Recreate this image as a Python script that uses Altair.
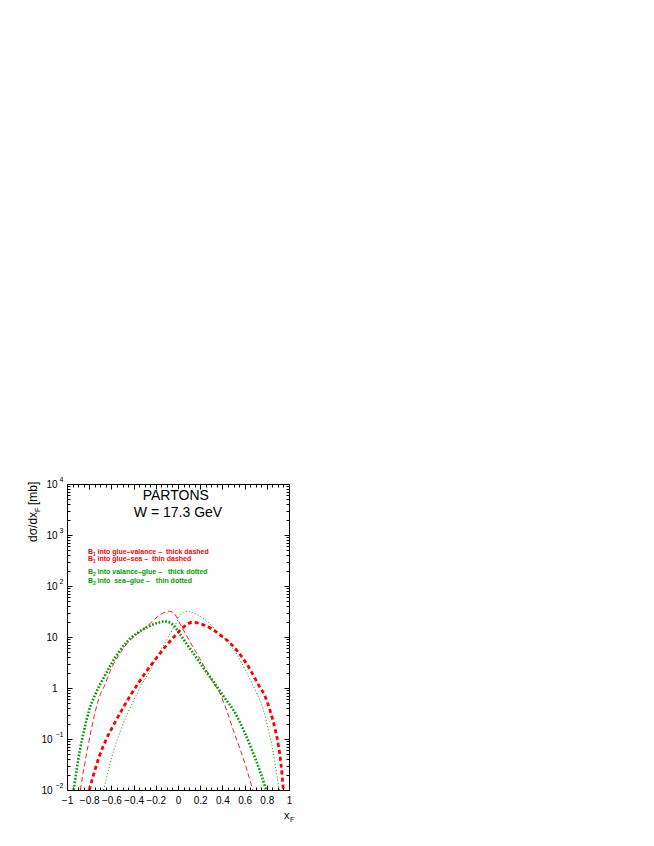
import altair as alt
import pandas as pd

# ---- data ----
b1_valence_x = [-0.80, -0.77, -0.71, -0.65, -0.576, -0.50, -0.43, -0.35, -0.28, -0.19, -0.11, -0.02, 0.02, 0.07,
                0.13, 0.20, 0.29, 0.38, 0.47, 0.56, 0.65, 0.725, 0.785, 0.83, 0.874, 0.904, 0.928, 0.949]
b1_valence_y = [0.01, 0.017, 0.045, 0.095, 0.195, 0.39, 0.71, 1.32, 2.19, 3.98, 6.6, 11, 13.5, 17,
                19.5, 18.2, 15, 11, 7.6, 4.5, 2.3, 1.15, 0.68, 0.355, 0.16, 0.076, 0.032, 0.01]

b1_sea_x = [-0.88, -0.845, -0.80, -0.755, -0.70, -0.665, -0.605, -0.53, -0.456, -0.336, -0.247, -0.157, -0.08,
            -0.038, 0.022, 0.082, 0.142, 0.202, 0.262, 0.32, 0.381, 0.44, 0.50, 0.561, 0.62, 0.674]
b1_sea_y = [0.01, 0.029, 0.095, 0.28, 0.75, 1.07, 2.3, 4.5, 7.6, 12.9, 18.8, 27.7, 32,
            29.5, 17.4, 10.2, 6.0, 3.6, 2.1, 1.25, 0.76, 0.355, 0.145, 0.062, 0.025, 0.01]

b2_valence_x = [-0.94, -0.913, -0.883, -0.845, -0.80, -0.74, -0.68, -0.605, -0.53, -0.456, -0.366, -0.276, -0.187,
                -0.12, -0.067, -0.022, 0.022, 0.082, 0.157, 0.231, 0.32, 0.41, 0.516, 0.59, 0.665, 0.734, 0.794]
b2_valence_y = [0.01, 0.025, 0.062, 0.15, 0.37, 0.79, 1.45, 2.86, 5.2, 8.2, 12, 15.7, 18.8,
                20.2, 18.8, 15.1, 11.1, 7.1, 4.2, 2.45, 1.32, 0.69, 0.32, 0.15, 0.062, 0.025, 0.01]

b2_sea_x = [-0.67, -0.626, -0.576, -0.516, -0.44, -0.366, -0.307, -0.247, -0.187, -0.127, -0.067, -0.01, 0.022,
            0.082, 0.172, 0.262, 0.351, 0.441, 0.531, 0.605, 0.665, 0.71, 0.77, 0.814, 0.854, 0.883, 0.913]
b2_sea_y = [0.01, 0.025, 0.062, 0.15, 0.37, 0.8, 1.38, 2.28, 4.2, 7.1, 12, 20, 27.5,
            31.6, 27.5, 20.2, 12.9, 8.2, 4.5, 2.28, 1.25, 0.79, 0.37, 0.15, 0.062, 0.025, 0.01]

x_major = [-1, -0.8, -0.6, -0.4, -0.2, 0, 0.2, 0.4, 0.6, 0.8, 1]
x_minor = [-0.95, -0.9, -0.85, -0.75, -0.7, -0.65, -0.55, -0.5, -0.45, -0.35, -0.3, -0.25, -0.15, -0.1, -0.05,
           0.05, 0.1, 0.15, 0.25, 0.3, 0.35, 0.45, 0.5, 0.55, 0.65, 0.7, 0.75, 0.85, 0.9, 0.95]
y_major = [0.01, 0.1, 1, 10, 100, 1000, 10000]
y_exponents = ["\u22122", "\u22121", "", "", "2", "3", "4"]
y_minor = [m * d for d in [0.01, 0.1, 1, 10, 100, 1000] for m in [2, 3, 4, 5, 6, 7, 8, 9]]

title_lines = ["PARTONS", "W = 17.3 GeV"]
title_x = [-0.02, 0.0]
title_y = [5900, 2700]

NB = "\u00a0"
legend_sub = ["1", "1", "2", "2"]
legend_rest = ["into glue\u2013valance \u2013" + NB * 2 + "thick dashed",
               "into glue\u2013sea \u2013" + NB * 2 + "thin dashed",
               "into valance\u2013glue \u2013" + NB * 3 + "thick dotted",
               "into" + NB * 2 + "sea\u2013glue \u2013" + NB * 3 + "thin dotted"]
legend_x = [-0.81, -0.81, -0.81, -0.81]
legend_y = [468, 340, 186, 128]
legend_color = ["#ff0000", "#ff0000", "#009c00", "#009c00"]

RED = "#ff0000"
GREEN = "#009c00"
FONT = "Liberation Sans"
W, H = 222, 306

frames = []
for name, xs_, ys_ in [("b1v", b1_valence_x, b1_valence_y), ("b1s", b1_sea_x, b1_sea_y),
                       ("b2v", b2_valence_x, b2_valence_y), ("b2s", b2_sea_x, b2_sea_y)]:
    frames.append(pd.DataFrame({"x": xs_, "y": ys_, "series": name}))
df = pd.concat(frames, ignore_index=True)

xscale = alt.Scale(domain=[-1, 1], nice=False, zero=False)
yscale = alt.Scale(type="log", domain=[0.01, 10000], nice=False)

exp_expr = "[" + ",".join("'%s'" % s for s in y_exponents) + "][round(log(datum.value)/LN10)+2]"
grid_common = dict(grid=True, gridColor="black", gridOpacity=1, gridWidth=1)

x_axis_major = alt.Axis(orient="bottom", values=x_major, format="~g", gridDash=[5, H - 10, 5, 2000],
                        ticks=False, tickSize=0, domain=False, labelFont=FONT, labelFontSize=10,
                        labelColor="black", labelPadding=5, labelFlush=False, labelOverlap=False,
                        title=None, **grid_common)
x_axis_minor = alt.Axis(orient="bottom", values=x_minor, gridDash=[3, H - 6, 3, 2000],
                        ticks=False, labels=False, domain=False, title=None, **grid_common)
y_axis_major = alt.Axis(orient="left", values=y_major,
                        labelExpr="datum.value < 0.5 ? '' : (datum.value < 5 ? '1' : '10')",
                        gridDash=[5, W - 10, 5, 2000], ticks=False, tickSize=0, domain=False,
                        labelFont=FONT, labelFontSize=10, labelColor="black", labelPadding=10,
                        labelFlush=False, labelOverlap=False, title=None, **grid_common)
y_axis_minor = alt.Axis(orient="left", values=y_minor, gridDash=[3, W - 6, 3, 2000],
                        ticks=False, labels=False, domain=False, title=None, **grid_common)
y_axis_neg = alt.Axis(orient="left", values=[0.01, 0.1], labelExpr="'10'", grid=False, ticks=False,
                      tickSize=0, domain=False, labelFont=FONT, labelFontSize=10, labelColor="black",
                      labelPadding=15, labelFlush=False, labelOverlap=False, title=None)
y_axis_exp = alt.Axis(orient="left", values=y_major, labelExpr=exp_expr, grid=False, ticks=False,
                      tickSize=0, domain=False, labelFont=FONT, labelFontSize=7, labelColor="black",
                      labelPadding=4, labelOffset=-5, labelFlush=False, labelOverlap=False, title=None)


def curve(series, color, width, dash, xaxis=None, yaxis=None):
    return alt.Chart(df).transform_filter(alt.datum.series == series).mark_line(
        color=color, strokeWidth=width, strokeDash=dash, interpolate="monotone", clip=True
    ).encode(
        x=alt.X("x:Q", scale=xscale, axis=xaxis),
        y=alt.Y("y:Q", scale=yscale, axis=yaxis),
        order="x:Q",
    )


l1 = curve("b1s", RED, 0.9, [5, 3], x_axis_major, y_axis_major)
l2 = curve("b2s", GREEN, 1.0, [1, 2.2], x_axis_minor, y_axis_minor)
l3 = curve("b2v", GREEN, 2.6, [1.7, 1.7], None, y_axis_neg)
l4 = curve("b1v", RED, 2.8, [4, 3], None, y_axis_exp)

title_df = pd.DataFrame({"t": title_lines, "x": title_x, "y": title_y})
titles = alt.Chart(title_df).mark_text(font=FONT, fontSize=14, color="black", align="center",
                                        baseline="middle").encode(
    x=alt.X("x:Q", scale=xscale, axis=None),
    y=alt.Y("y:Q", scale=yscale, axis=None),
    text="t:N",
)

leg_df = pd.DataFrame({"sub": legend_sub, "rest": legend_rest, "x": legend_x, "y": legend_y,
                       "c": legend_color})


def leg_text(field, size, dx, dy, const=None):
    kw = dict(font=FONT, fontSize=size, fontWeight="bold", align="left", baseline="middle", dx=dx, dy=dy)
    if const is not None:
        kw["text"] = const
    enc = dict(
        x=alt.X("x:Q", scale=xscale, axis=None),
        y=alt.Y("y:Q", scale=yscale, axis=None),
        color=alt.Color("c:N", scale=None),
    )
    if field is not None:
        enc["text"] = alt.Text(field + ":N")
    return alt.Chart(leg_df).mark_text(**kw).encode(**enc)


leg_b = leg_text(None, 7, 0, 0, const="B")
leg_s = leg_text("sub", 5, 5, 2)
leg_r = leg_text("rest", 7, 9.4, 0)

one = alt.Data(values=[{}])
yt1 = alt.Chart(one).mark_text(text="d\u03c3/dx", font=FONT, fontSize=12, angle=270, align="left",
                               baseline="alphabetic", color="black").encode(x=alt.value(-30), y=alt.value(58))
yt2 = alt.Chart(one).mark_text(text="F", font=FONT, fontSize=8, angle=270, align="left",
                               baseline="alphabetic", color="black").encode(x=alt.value(-27.5), y=alt.value(28.2))
yt3 = alt.Chart(one).mark_text(text="[mb]", font=FONT, fontSize=12, angle=270, align="left",
                               baseline="alphabetic", color="black").encode(x=alt.value(-30), y=alt.value(21))
xt1 = alt.Chart(one).mark_text(text="x", font=FONT, fontSize=11, align="left",
                               baseline="alphabetic", color="black").encode(x=alt.value(217), y=alt.value(335))
xt2 = alt.Chart(one).mark_text(text="F", font=FONT, fontSize=7, align="left",
                               baseline="alphabetic", color="black").encode(x=alt.value(223), y=alt.value(337.5))

chart = alt.layer(l1, l2, l3, l4, titles, leg_b, leg_s, leg_r, yt1, yt2, yt3, xt1, xt2).resolve_axis(
    x="independent", y="independent"
).properties(
    width=W, height=H,
    autosize=alt.AutoSizeParams(type="none"),
    padding={"left": 59, "top": 476, "right": 20, "bottom": 40},
).configure_view(stroke="black", strokeWidth=1)

chart.save("out.html", embed_options={"renderer": "svg", "actions": False})
